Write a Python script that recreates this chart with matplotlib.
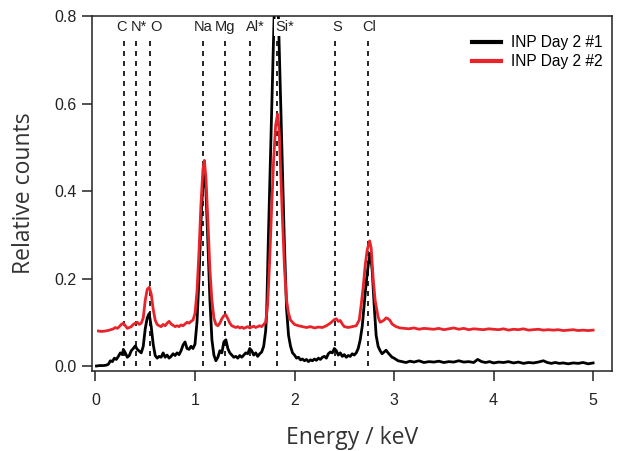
import numpy as np
import matplotlib
matplotlib.use("Agg")
import matplotlib.pyplot as plt

# spectrum 1 (black)
energy_1 = [0.01, 0.04, 0.08, 0.11, 0.13, 0.15, 0.17, 0.19, 0.21, 0.23, 0.25, 0.27, 0.28, 0.30, 0.32,
            0.34, 0.36, 0.38, 0.40, 0.42, 0.44, 0.46, 0.48, 0.50, 0.52, 0.54, 0.56, 0.58, 0.60, 0.62,
            0.64, 0.66, 0.68, 0.70, 0.72, 0.74, 0.76, 0.78, 0.80, 0.82, 0.84, 0.86, 0.88, 0.90, 0.92,
            0.94, 0.96, 0.98, 1.00, 1.02, 1.04, 1.06, 1.08, 1.095, 1.11, 1.13, 1.15, 1.17, 1.19, 1.21,
            1.23, 1.25, 1.27, 1.29, 1.31, 1.33, 1.35, 1.37, 1.39, 1.41, 1.43, 1.45, 1.47, 1.49, 1.51,
            1.53, 1.55, 1.57, 1.59, 1.61, 1.63, 1.65, 1.67, 1.69, 1.71, 1.72, 1.737, 1.76, 1.78, 1.795,
            1.816, 1.838, 1.86, 1.88, 1.897, 1.92, 1.94, 1.96, 1.98, 2.00, 2.02, 2.04, 2.06, 2.08, 2.10,
            2.12, 2.14, 2.16, 2.18, 2.20, 2.22, 2.24, 2.26, 2.28, 2.30, 2.32, 2.34, 2.36, 2.38, 2.40,
            2.42, 2.44, 2.46, 2.48, 2.50, 2.52, 2.54, 2.56, 2.58, 2.60, 2.62, 2.64, 2.66, 2.68, 2.70,
            2.72, 2.74, 2.76, 2.78, 2.80, 2.82, 2.84, 2.86, 2.88, 2.90, 2.92, 2.94, 2.96, 2.98, 3.00,
            3.04, 3.08, 3.12, 3.16, 3.20, 3.25, 3.30, 3.35, 3.40, 3.45, 3.50, 3.55, 3.60, 3.65, 3.70,
            3.75, 3.80, 3.84, 3.88, 3.92, 3.96, 4.00, 4.05, 4.10, 4.15, 4.20, 4.25, 4.30, 4.35, 4.40,
            4.45, 4.50, 4.54, 4.58, 4.62, 4.66, 4.70, 4.75, 4.80, 4.85, 4.90, 4.95, 5.00]
counts_1 = [0.000, 0.001, 0.001, 0.002, 0.004, 0.012, 0.010, 0.018, 0.015, 0.022, 0.030, 0.026, 0.038, 0.030, 0.020,
            0.024, 0.035, 0.040, 0.046, 0.038, 0.034, 0.030, 0.045, 0.085, 0.110, 0.120, 0.090, 0.050, 0.024, 0.018,
            0.022, 0.020, 0.030, 0.020, 0.025, 0.018, 0.022, 0.028, 0.024, 0.030, 0.026, 0.035, 0.048, 0.055, 0.040,
            0.038, 0.045, 0.040, 0.050, 0.100, 0.200, 0.330, 0.420, 0.440, 0.400, 0.280, 0.150, 0.060, 0.025, 0.012,
            0.020, 0.035, 0.030, 0.055, 0.060, 0.040, 0.030, 0.025, 0.020, 0.022, 0.018, 0.024, 0.020, 0.025, 0.030,
            0.028, 0.040, 0.035, 0.025, 0.030, 0.022, 0.028, 0.032, 0.045, 0.080, 0.120, 0.290, 0.490, 0.670, 0.800,
            0.980, 0.800, 0.610, 0.440, 0.290, 0.130, 0.070, 0.045, 0.030, 0.025, 0.018, 0.020, 0.014, 0.016, 0.012,
            0.015, 0.010, 0.014, 0.012, 0.016, 0.013, 0.018, 0.015, 0.020, 0.022, 0.018, 0.028, 0.032, 0.030, 0.040,
            0.035, 0.025, 0.030, 0.022, 0.026, 0.020, 0.024, 0.022, 0.028, 0.025, 0.030, 0.040, 0.060, 0.090, 0.140,
            0.190, 0.230, 0.258, 0.220, 0.140, 0.070, 0.045, 0.035, 0.028, 0.032, 0.036, 0.030, 0.025, 0.020, 0.018,
            0.012, 0.010, 0.008, 0.011, 0.009, 0.012, 0.008, 0.010, 0.009, 0.011, 0.008, 0.010, 0.009, 0.012, 0.009,
            0.010, 0.008, 0.015, 0.010, 0.008, 0.010, 0.007, 0.009, 0.008, 0.010, 0.007, 0.009, 0.006, 0.008, 0.007,
            0.009, 0.012, 0.008, 0.006, 0.008, 0.006, 0.007, 0.005, 0.007, 0.006, 0.008, 0.005, 0.007]

# spectrum 2 (red)
energy_2 = [0.03, 0.06, 0.10, 0.14, 0.18, 0.20, 0.22, 0.24, 0.26, 0.28, 0.30, 0.32, 0.34, 0.36, 0.38,
            0.40, 0.42, 0.44, 0.46, 0.48, 0.50, 0.52, 0.54, 0.56, 0.58, 0.60, 0.62, 0.64, 0.66, 0.68,
            0.70, 0.72, 0.74, 0.76, 0.78, 0.80, 0.82, 0.84, 0.86, 0.88, 0.90, 0.92, 0.94, 0.96, 0.98,
            1.00, 1.02, 1.04, 1.06, 1.08, 1.094, 1.11, 1.13, 1.15, 1.17, 1.19, 1.21, 1.23, 1.25, 1.27,
            1.29, 1.31, 1.33, 1.35, 1.37, 1.39, 1.41, 1.43, 1.45, 1.47, 1.49, 1.51, 1.53, 1.55, 1.57,
            1.59, 1.61, 1.63, 1.65, 1.67, 1.69, 1.71, 1.73, 1.75, 1.77, 1.79, 1.81, 1.83, 1.845, 1.86,
            1.88, 1.90, 1.92, 1.94, 1.96, 1.98, 2.00, 2.04, 2.08, 2.12, 2.16, 2.20, 2.24, 2.28, 2.32,
            2.36, 2.40, 2.42, 2.44, 2.46, 2.48, 2.50, 2.54, 2.58, 2.62, 2.65, 2.67, 2.69, 2.71, 2.73,
            2.755, 2.77, 2.79, 2.81, 2.84, 2.86, 2.88, 2.90, 2.92, 2.94, 2.96, 2.98, 3.02, 3.06, 3.10,
            3.15, 3.20, 3.25, 3.30, 3.35, 3.40, 3.45, 3.50, 3.55, 3.60, 3.65, 3.70, 3.75, 3.80, 3.85,
            3.90, 3.95, 4.00, 4.05, 4.10, 4.15, 4.20, 4.25, 4.30, 4.35, 4.40, 4.45, 4.50, 4.55, 4.60,
            4.65, 4.70, 4.75, 4.80, 4.85, 4.90, 4.95, 5.00]
counts_2 = [0.080, 0.079, 0.080, 0.082, 0.085, 0.088, 0.086, 0.090, 0.095, 0.098, 0.092, 0.086, 0.088, 0.090, 0.095,
            0.098, 0.100, 0.095, 0.098, 0.110, 0.150, 0.175, 0.180, 0.165, 0.130, 0.105, 0.095, 0.092, 0.090, 0.095,
            0.092, 0.098, 0.102, 0.096, 0.093, 0.090, 0.092, 0.090, 0.094, 0.092, 0.096, 0.100, 0.098, 0.102, 0.105,
            0.120, 0.170, 0.260, 0.370, 0.450, 0.470, 0.430, 0.330, 0.220, 0.150, 0.110, 0.095, 0.092, 0.098, 0.108,
            0.115, 0.117, 0.108, 0.098, 0.092, 0.090, 0.088, 0.090, 0.087, 0.089, 0.086, 0.088, 0.090, 0.087, 0.089,
            0.091, 0.088, 0.090, 0.092, 0.090, 0.095, 0.100, 0.140, 0.240, 0.360, 0.470, 0.550, 0.576, 0.540, 0.450,
            0.330, 0.220, 0.150, 0.120, 0.105, 0.100, 0.095, 0.092, 0.090, 0.088, 0.090, 0.087, 0.089, 0.088, 0.092,
            0.098, 0.106, 0.108, 0.102, 0.104, 0.096, 0.090, 0.088, 0.090, 0.092, 0.105, 0.140, 0.180, 0.230, 0.265,
            0.286, 0.270, 0.200, 0.150, 0.112, 0.100, 0.102, 0.105, 0.110, 0.108, 0.104, 0.096, 0.090, 0.087, 0.086,
            0.085, 0.087, 0.084, 0.086, 0.085, 0.084, 0.086, 0.083, 0.085, 0.087, 0.084, 0.086, 0.083, 0.085, 0.084,
            0.083, 0.085, 0.084, 0.083, 0.085, 0.082, 0.084, 0.083, 0.085, 0.082, 0.083, 0.084, 0.082, 0.083, 0.082,
            0.083, 0.081, 0.082, 0.083, 0.081, 0.082, 0.081, 0.082]

# element markers
elements = ["C", "N*", "O", "Na", "Mg", "Al*", "Si*", "S", "Cl"]
line_pos = [0.286, 0.404, 0.548, 1.08, 1.30, 1.55, 1.82, 2.41, 2.74]
label_pos = [0.264, 0.437, 0.605, 1.084, 1.30, 1.603, 1.904, 2.434, 2.752]

series_names = ["INP Day 2 #1", "INP Day 2 #2"]

fig = plt.figure(figsize=(6.24, 4.51), dpi=100)
ax = fig.add_axes([0.1474, 0.1774, 0.8334, 0.7871])

for x in line_pos:
    ax.plot([x, x], [0.0, 0.755], color="black", lw=1.2, ls=(0, (3, 3)), zorder=1)

ax.plot(energy_1, counts_1, color="black", lw=2.0, label=series_names[0], zorder=2)
ax.plot(energy_2, counts_2, color="#e8232a", lw=2.0, label=series_names[1], zorder=3)

# labels sit on a white patch, so the clipped Si peak stops just under them
for name, x in zip(elements, label_pos):
    ax.text(x, 0.774, name, ha="center", va="center", fontsize=10.5,
            family="Liberation Sans", color="#222222", zorder=5,
            bbox=dict(boxstyle="square,pad=0.1", fc="white", ec="none"))

ax.set_xlim(-0.035, 5.19)
ax.set_ylim(-0.0114, 0.8)
ax.set_xticks([0, 1, 2, 3, 4, 5])
ax.set_yticks([0.0, 0.2, 0.4, 0.6, 0.8])
ax.set_yticklabels(["0.0", "0.2", "0.4", "0.6", "0.8"])
ax.tick_params(direction="out", length=7, width=1.1, labelsize=11.5, colors="#222222")
ax.tick_params(axis="x", pad=9)
ax.tick_params(axis="y", pad=4)
for lab in ax.get_xticklabels() + ax.get_yticklabels():
    lab.set_family("Liberation Sans")
for sp in ax.spines.values():
    sp.set_linewidth(1.1)
    sp.set_color("#222222")

ax.set_xlabel("Energy / keV", fontsize=16.5, family="Open Sans", color="#333333", labelpad=13)
ax.set_ylabel("Relative counts", fontsize=16.5, family="Open Sans", color="#333333", labelpad=13)

leg = ax.legend(loc="upper right", bbox_to_anchor=(1.008, 0.985), frameon=False,
                handlelength=1.9, handletextpad=0.6, labelspacing=0.25,
                prop={"family": "Liberation Sans", "size": 11.2})
for line in leg.get_lines():
    line.set_linewidth(3)

fig.savefig("out.png", dpi=100)
